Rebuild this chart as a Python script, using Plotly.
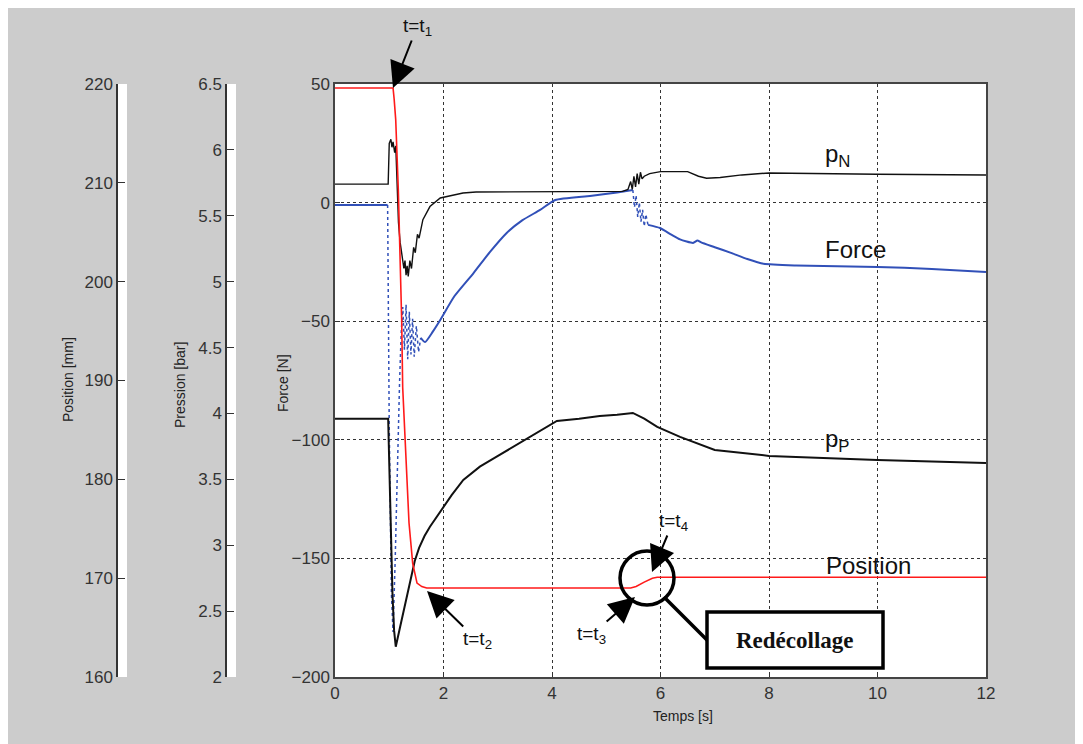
import plotly.graph_objects as go

# ---------------- data ----------------
pos_t = [0, 1.07, 1.09, 1.119, 1.167, 1.198, 1.229, 1.248, 1.309, 1.364, 1.432, 1.512, 1.60, 1.69,
         5.45, 5.55, 5.7, 5.85, 5.94, 12]
pos_mm = [219.6, 219.6, 218.5, 216.4, 209.3, 202.9, 196.1, 189.3, 182.3, 175.6, 171.5, 169.5, 169.15, 169.0,
          169.0, 169.15, 169.6, 170.0, 170.1, 170.1]

force_t = [0, 0.97, 1.0, 1.04, 1.07, 1.11, 1.15, 1.19, 1.22, 1.25, 1.28, 1.31, 1.34, 1.37, 1.40, 1.43,
           1.46, 1.50, 1.54, 1.58, 1.66, 1.8, 1.94, 2.2, 2.55, 2.85, 3.16, 3.45, 3.78, 4.06, 4.7, 5.2, 5.49,
           5.52, 5.55, 5.58, 5.61, 5.64, 5.67, 5.70, 5.73, 5.77, 5.99, 6.2, 6.36, 6.6, 6.68, 6.75, 7.0, 7.3,
           7.6, 7.9, 8.5, 10, 11, 12]
force_n = [-1.0, -1.0, -95, -165, -181, -150, -110, -76, -55, -44, -62, -43, -66, -46, -64, -49,
           -65, -52, -63, -57, -58.8, -54.5, -49.5, -39.5, -29.8, -21.0, -12.9, -7.5, -3.1, 1.1, 2.8, 4.3, 5.3,
           -2, 3, -6, 0, -8, -3, -10, -5, -9.4, -10.7, -13.5, -15.5, -17.0, -16.0, -16.8, -18.8, -21.2,
           -23.8, -25.8, -26.5, -27.1, -28.0, -29.3]

pn_t = [0, 0.98, 1.0, 1.03, 1.05, 1.07, 1.1, 1.12, 1.14, 1.17, 1.2, 1.24, 1.27, 1.29, 1.31, 1.33, 1.35,
        1.38, 1.41, 1.45, 1.48, 1.52, 1.55, 1.62, 1.75, 1.94, 2.36, 2.6, 5.3, 5.4, 5.45, 5.48, 5.51, 5.54,
        5.57, 5.6, 5.63, 5.66, 5.7, 5.8, 6.0, 6.5, 6.7, 6.85, 7.1, 7.5, 8, 10, 12]
pn_bar = [5.74, 5.74, 6.05, 6.08, 6.02, 6.06, 5.98, 6.03, 5.80, 5.45, 5.30, 5.18, 5.10, 5.16, 5.05, 5.12, 5.04,
          5.16, 5.10, 5.26, 5.22, 5.36, 5.33, 5.47, 5.57, 5.635, 5.673, 5.68, 5.685, 5.70, 5.76, 5.70, 5.80, 5.72,
          5.82, 5.74, 5.83, 5.78, 5.80, 5.82, 5.835, 5.835, 5.80, 5.785, 5.79, 5.81, 5.825, 5.815, 5.81]

pp_t = [0, 0.98, 1.0, 1.03, 1.06, 1.09, 1.12, 1.2, 1.3, 1.4, 1.47, 1.55, 1.65, 1.75, 1.85, 2.0, 2.15, 2.365,
        2.67, 2.98, 3.3, 3.59, 3.85, 4.09, 4.5, 4.88, 5.2, 5.49, 5.7, 5.94, 6.36, 7.0, 8.0, 9.0, 10.0, 11.0, 12.0]
pp_bar = [3.96, 3.96, 3.62, 3.10, 2.62, 2.35, 2.23, 2.38, 2.57, 2.76, 2.88, 2.98, 3.07, 3.14, 3.20, 3.29, 3.38, 3.495,
          3.596, 3.672, 3.75, 3.822, 3.89, 3.943, 3.96, 3.98, 3.99, 4.004, 3.96, 3.898, 3.822, 3.723, 3.678, 3.66,
          3.647, 3.635, 3.624]

x_ticks = [0, 2, 4, 6, 8, 10, 12]
force_ticks = [50, 0, -50, -100, -150, -200]
press_ticks = [2, 2.5, 3, 3.5, 4, 4.5, 5, 5.5, 6, 6.5]
pos_ticks = [160, 170, 180, 190, 200, 210, 220]

# ---------------- layout geometry (figure sits 8px from page corner) ----------------
OFF = 8
W, H = 1083, 744
ML, MR, MT, MB = 100, 105, 76, 75
PW = W - ML - MR
PH = H - MT - MB


def px(xs):
    """screen x -> paper x"""
    return (xs - OFF - ML) / PW


def py(ys):
    """screen y -> paper y"""
    return (H - MB - (ys - OFF)) / PH


FONT = "Liberation Sans, Arial, sans-serif"
BLUE = "#3150b8"
RED = "#ff1a1a"
BLACK = "#111111"

fig = go.Figure()

solid_ranges = [(0, 2), (19, 33), (41, len(force_t))]
dotted_ranges = [(1, 20), (32, 42)]
for a, b in dotted_ranges:
    fig.add_trace(go.Scatter(x=force_t[a:b], y=force_n[a:b], mode="lines", yaxis="y",
                             line=dict(color=BLUE, width=1.5, dash="dot"), showlegend=False))
for a, b in solid_ranges:
    fig.add_trace(go.Scatter(x=force_t[a:b], y=force_n[a:b], mode="lines", yaxis="y",
                             line=dict(color=BLUE, width=2, shape="spline", smoothing=0.5), showlegend=False))

fig.add_trace(go.Scatter(x=pn_t, y=pn_bar, mode="lines", yaxis="y2",
                         line=dict(color=BLACK, width=1.4), showlegend=False))
fig.add_trace(go.Scatter(x=pp_t, y=pp_bar, mode="lines", yaxis="y2",
                         line=dict(color=BLACK, width=2), showlegend=False))
fig.add_trace(go.Scatter(x=pos_t, y=pos_mm, mode="lines", yaxis="y3",
                         line=dict(color=RED, width=1.6), showlegend=False))

tickfont = dict(family=FONT, size=17, color="#333333")
grid = dict(showgrid=True, gridcolor="#333333", gridwidth=1, griddash="3px,3px")

fig.update_layout(
    width=W, height=H,
    margin=dict(l=ML, r=MR, t=MT, b=MB, pad=0),
    paper_bgcolor="#cccccc", plot_bgcolor="#cccccc",
    showlegend=False,
    xaxis=dict(domain=[px(335), 1], range=[0, 12], tickvals=x_ticks, ticks="inside", ticklen=5,
               tickcolor="#333", showline=True, mirror=True, linecolor="#444", linewidth=1.5,
               tickfont=tickfont, zeroline=False, **grid),
    yaxis=dict(range=[-200, 50], tickvals=force_ticks, ticks="inside", ticklen=5, tickcolor="#333",
               showline=True, mirror=True, linecolor="#444", linewidth=1.5, tickfont=tickfont,
               zeroline=False, anchor="x", **grid),
    yaxis2=dict(range=[2, 6.5], tickvals=press_ticks, overlaying="y", anchor="free", position=px(226),
                side="left", showgrid=False, zeroline=False, showline=True, linecolor="#333", linewidth=1.5,
                ticks="inside", ticklen=7, tickcolor="#333", tickfont=tickfont),
    yaxis3=dict(range=[160, 220], tickvals=pos_ticks, overlaying="y", anchor="free", position=px(117),
                side="left", showgrid=False, zeroline=False, showline=True, linecolor="#333", linewidth=1.5,
                ticks="inside", ticklen=7, tickcolor="#333", tickfont=tickfont),
)

shapes = [
    dict(type="rect", xref="paper", yref="paper", x0=px(335), x1=1, y0=0, y1=1,
         fillcolor="white", line=dict(width=0), layer="below"),
    dict(type="rect", xref="paper", yref="paper", x0=px(118), x1=px(127), y0=0, y1=1,
         fillcolor="white", line=dict(width=0), layer="below"),
    dict(type="rect", xref="paper", yref="paper", x0=px(227), x1=px(236), y0=0, y1=1,
         fillcolor="white", line=dict(width=0), layer="below"),
    dict(type="circle", xref="paper", yref="paper", x0=px(620), x1=px(674), y0=py(605), y1=py(551),
         line=dict(color="black", width=3.5), layer="above"),
    dict(type="line", xref="paper", yref="paper", x0=px(664), y0=py(597), x1=px(708), y1=py(641),
         line=dict(color="black", width=3.5), layer="above"),
    dict(type="rect", xref="paper", yref="paper", x0=px(707), x1=px(883), y0=py(668), y1=py(612),
         fillcolor="white", line=dict(color="black", width=3.5), layer="above"),
]
fig.update_layout(shapes=shapes)

ann = []
lab_font = dict(family=FONT, size=14, color="#222")
for txt, xc, yc, ang in [("Position [mm]", 68, 380, -90), ("Pression [bar]", 180, 385, -90),
                         ("Force [N]", 283, 383, -90), ("Temps [s]", 683, 716, 0)]:
    ann.append(dict(text=txt, xref="paper", yref="paper", x=px(xc), y=py(yc), textangle=ang,
                    showarrow=False, font=lab_font, xanchor="center", yanchor="middle"))

big = dict(family=FONT, size=24, color="#111")
for txt, xl, yc in [("p<sub>N</sub>", 823, 155), ("Force", 823, 250), ("p<sub>P</sub>", 823, 440),
                    ("Position", 824, 565)]:
    ann.append(dict(text=txt, xref="paper", yref="paper", x=px(xl), y=py(yc), showarrow=False,
                    font=big, xanchor="left", yanchor="middle"))

# t labels with arrows: text centre (screen) and arrow tip (screen)
tfont = dict(family=FONT, size=19, color="#111")
for txt, xc, yc, tx, ty in [("t=t<sub>1</sub>", 417, 27, 393, 88), ("t=t<sub>2</sub>", 477, 640, 427, 591),
                            ("t=t<sub>3</sub>", 591, 635, 635, 597), ("t=t<sub>4</sub>", 673, 522, 652, 572)]:
    ann.append(dict(text=txt, xref="paper", yref="paper", x=px(tx), y=py(ty), ax=xc - tx, ay=yc - ty,
                    showarrow=True, arrowhead=2, arrowsize=2.6, arrowwidth=2, arrowcolor="black",
                    standoff=0, font=tfont))

ann.append(dict(text="<b>Redécollage</b>", xref="paper", yref="paper", x=px(795), y=py(640), showarrow=False,
                font=dict(family="Liberation Serif, Times New Roman, serif", size=23, color="#111"),
                xanchor="center", yanchor="middle"))

fig.update_layout(annotations=ann)

fig.write_html("out.html")
